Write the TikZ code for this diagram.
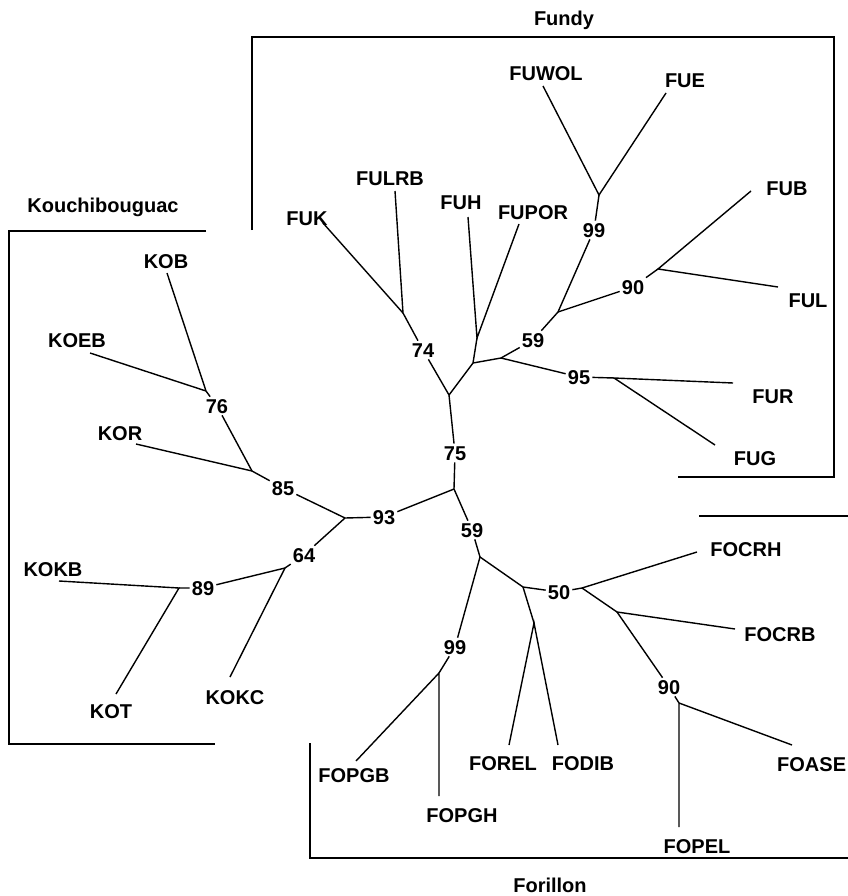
\documentclass[tikz,border=0pt]{standalone}
\usepackage{fontspec}
\setmainfont{Liberation Sans}
\begin{document}
\begin{tikzpicture}[x=1pt,y=-1pt,
  every node/.style={font=\bfseries\fontsize{20}{24}\selectfont, inner sep=2pt, text height=14.3pt, text depth=0pt},
  br/.style={line width=1.4pt},
  frame/.style={line width=1.4pt}]
\useasboundingbox (0,0) rectangle (847,896);

% ---------- group frames and titles ----------
\coordinate (fa) at (252,230); \coordinate (fb) at (252,37); \coordinate (fc) at (834,37);
\coordinate (fd) at (834,477); \coordinate (fe) at (678,477);
\draw[frame] (fa) -- (fb) -- (fc) -- (fd) -- (fe);
\node (tFundy) at (564,18) {Fundy};

\coordinate (ka) at (206,231); \coordinate (kb) at (9,231); \coordinate (kc) at (9,744); \coordinate (kd) at (215,744);
\draw[frame] (ka) -- (kb) -- (kc) -- (kd);
\node (tKou) at (103,205) {Kouchibouguac};

\coordinate (oa) at (310,743); \coordinate (ob) at (310,858); \coordinate (oc) at (870,858);
\coordinate (od) at (699,516); \coordinate (oe) at (870,516);
\draw[frame] (oa) -- (ob) -- (oc);
\draw[frame] (od) -- (oe);
\node (tFor) at (550,885) {Forillon};

% ---------- internal nodes ----------
\coordinate (n99a) at (599,195);
\coordinate (n59a) at (558,312);
\coordinate (n90a) at (658,269);
\coordinate (n59b) at (501,358);
\coordinate (n95)  at (614,378);
\coordinate (nH)   at (477,338);
\coordinate (nHb)  at (473,363);
\coordinate (n75)  at (449,395);
\coordinate (n74)  at (403,313);
\coordinate (nroot) at (454,489);
\coordinate (n93)  at (345,518);
\coordinate (n85)  at (252,471);
\coordinate (n76)  at (206,391);
\coordinate (n64)  at (285,568);
\coordinate (n89)  at (179,588);
\coordinate (nF)   at (480,557);
\coordinate (n50a) at (523,587);
\coordinate (n50b) at (582,588);
\coordinate (nRD)  at (534,623);
\coordinate (nCRB) at (617,612);
\coordinate (n90b) at (679,703);
\coordinate (n99b) at (439,673);

% ---------- leaf tips ----------
\coordinate (FUWOL) at (543,86);
\coordinate (FUE)   at (666,93);
\coordinate (FUB)   at (751,191);
\coordinate (FUL)   at (778,287);
\coordinate (FUR)   at (733,383);
\coordinate (FUG)   at (715,445);
\coordinate (FUH)   at (468,217);
\coordinate (FUPOR) at (519,224);
\coordinate (FUK)   at (323,223);
\coordinate (FULRB) at (395,191);
\coordinate (KOB)   at (167,273);
\coordinate (KOEB)  at (90,353);
\coordinate (KOR)   at (136,444);
\coordinate (KOKC)  at (230,677);
\coordinate (KOKB)  at (59,581);
\coordinate (KOT)   at (116,694);
\coordinate (FOREL) at (509,745);
\coordinate (FODIB) at (558,745);
\coordinate (FOCRH) at (697,552);
\coordinate (FOCRB) at (735,629);
\coordinate (FOPEL) at (679,827);
\coordinate (FOASE) at (792,745);
\coordinate (FOPGB) at (356,761);
\coordinate (FOPGH) at (439,796);

% ---------- leaf labels ----------
\node (tFUWOL) at (546,73) {FUWOL};
\node (tFUE)   at (685,80) {FUE};
\node (tFUB)   at (787,188) {FUB};
\node (tFUL)   at (808,300) {FUL};
\node (tFUR)   at (773,396) {FUR};
\node (tFUG)   at (755,458) {FUG};
\node (tFUH)   at (461,202) {FUH};
\node (tFUPOR) at (533,212) {FUPOR};
\node (tFUK)   at (307,218) {FUK};
\node (tFULRB) at (390,178) {FULRB};
\node (tKOB)   at (166,261) {KOB};
\node (tKOEB)  at (77,340) {KOEB};
\node (tKOR)   at (120,433) {KOR};
\node (tKOKC)  at (235,697) {KOKC};
\node (tKOKB)  at (53,569) {KOKB};
\node (tKOT)   at (111,711) {KOT};
\node (tFOREL) at (503,763) {FOREL};
\node (tFODIB) at (583,763) {FODIB};
\node (tFOCRH) at (746,549) {FOCRH};
\node (tFOCRB) at (780,634) {FOCRB};
\node (tFOPEL) at (697,846) {FOPEL};
\node[anchor=west] (tFOASE) at (775,764) {FOASE};
\node (tFOPGB) at (354,775) {FOPGB};
\node (tFOPGH) at (462,815) {FOPGH};

% ---------- bootstrap labels ----------
\node (l99a) at (594,230) {99};
\node (l90a) at (633,287) {90};
\node (l59a) at (533,340) {59};
\node (l95)  at (579,377) {95};
\node (l74)  at (423,350) {74};
\node (l75)  at (455,453) {75};
\node (l93)  at (384,517) {93};
\node (l59b) at (472,530) {59};
\node (l85)  at (283,488) {85};
\node (l76)  at (217,406) {76};
\node (l64)  at (304,555) {64};
\node (l89)  at (203,588) {89};
\node (l50)  at (559,592) {50};
\node (l90b) at (669,687) {90};
\node (l99b) at (455,647) {99};

% ---------- branches ----------
\draw[br] (FUWOL) -- (n99a) -- (FUE);
\draw[br] (n99a) -- (l99a) -- (n59a);
\draw[br] (n59a) -- (l90a) -- (n90a);
\draw[br] (FUB) -- (n90a) -- (FUL);
\draw[br] (n59a) -- (l59a) -- (n59b);
\draw[br] (n59b) -- (l95) -- (n95);
\draw[br] (FUR) -- (n95) -- (FUG);
\draw[br] (FUH) -- (nH) -- (FUPOR);
\draw[br] (nH) -- (nHb) -- (n59b);
\draw[br] (nHb) -- (n75);
\draw[br] (n75) -- (l74) -- (n74);
\draw[br] (FUK) -- (n74) -- (FULRB);
\draw[br] (n75) -- (l75) -- (nroot);
\draw[br] (nroot) -- (l93) -- (n93);
\draw[br] (n93) -- (l85) -- (n85);
\draw[br] (n85) -- (KOR);
\draw[br] (n85) -- (l76) -- (n76);
\draw[br] (KOB) -- (n76) -- (KOEB);
\draw[br] (n93) -- (l64) -- (n64);
\draw[br] (n64) -- (KOKC);
\draw[br] (n64) -- (l89) -- (n89);
\draw[br] (KOKB) -- (n89) -- (KOT);
\draw[br] (nroot) -- (l59b) -- (nF);
\draw[br] (nF) -- (n50a);
\draw[br] (n50a) -- (l50) -- (n50b);
\draw[br] (n50a) -- (nRD);
\draw[br] (FOREL) -- (nRD) -- (FODIB);
\draw[br] (n50b) -- (FOCRH);
\draw[br] (n50b) -- (nCRB) -- (FOCRB);
\draw[br] (nCRB) -- (l90b) -- (n90b);
\draw[br] (FOPEL) -- (n90b) -- (FOASE);
\draw[br] (nF) -- (l99b) -- (n99b);
\draw[br] (FOPGB) -- (n99b) -- (FOPGH);
\end{tikzpicture}
\end{document}
